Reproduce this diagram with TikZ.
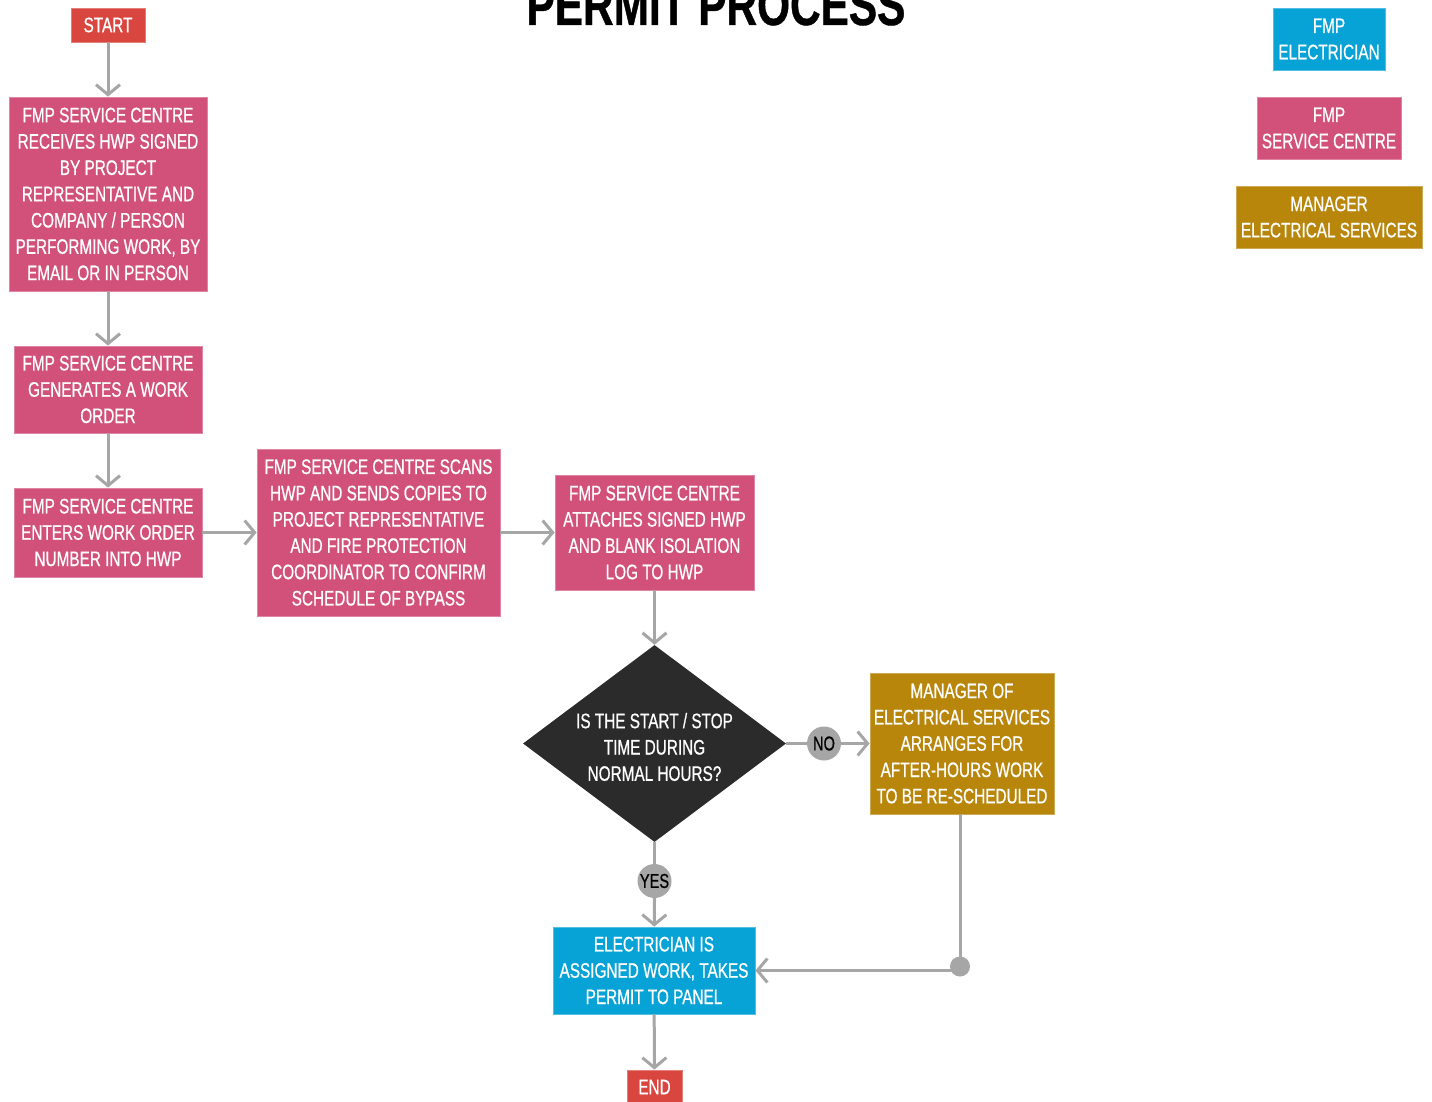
\documentclass[tikz,border=0pt]{standalone}
\usepackage{fontspec}
\setmainfont{Liberation Sans}[FakeStretch=0.73,FakeBold=0.7]
\usetikzlibrary{arrows.meta,shapes.geometric}
\definecolor{startred}{HTML}{D9463F}
\definecolor{centrepink}{HTML}{D1517B}
\definecolor{elecblue}{HTML}{07A2D6}
\definecolor{mgrgold}{HTML}{B8860B}
\definecolor{linegray}{HTML}{A6A6A6}
\definecolor{darkdia}{HTML}{2B2B2B}
\begin{document}
\begin{tikzpicture}[x=1pt,y=-1pt,
  box/.style={rectangle, inner sep=0pt, align=center, text=white,
    font=\fontsize{21}{26.3}\selectfont, line width=0.8pt},
  endpt/.style={box, fill=startred, draw=startred!70!white},
  centre/.style={box, fill=centrepink, draw=centrepink!70!white},
  elec/.style={box, fill=elecblue, draw=elecblue!70!white},
  mgr/.style={box, fill=mgrgold, draw=mgrgold!70!white},
  decision/.style={diamond, fill=darkdia, inner sep=0pt,
    minimum width=263pt, minimum height=197pt},
  answer/.style={circle, fill=linegray, inner sep=0pt, minimum size=34pt,
    text=black, font=\fontsize{20}{22}\selectfont},
  flow/.style={draw=linegray, line width=3pt,
    -{Straight Barb[length=10pt,width=24pt,line width=3pt]}},
  plain/.style={draw=linegray, line width=3pt},
]
\useasboundingbox (0,0) rectangle (1432,1102);

% title
\node[anchor=base, font=\fontsize{58}{60}\selectfont\bfseries] (title) at (716,25) {PERMIT PROCESS};

% legend
\node[elec, minimum width=112pt, minimum height=62pt] (legE) at (1329,39) {FMP\\ELECTRICIAN};
\node[centre, minimum width=144pt, minimum height=62pt] (legC) at (1329,128) {FMP\\SERVICE CENTRE};
\node[mgr, minimum width=186pt, minimum height=62pt] (legM) at (1329,217) {MANAGER\\ELECTRICAL SERVICES};

% process steps
\node[endpt, minimum width=74pt, minimum height=34pt] (start) at (108,25) {START};
\node[centre, minimum width=198pt, minimum height=194pt] (recv) at (108,194)
  {FMP SERVICE CENTRE\\RECEIVES HWP SIGNED\\BY PROJECT\\REPRESENTATIVE AND\\COMPANY / PERSON\\PERFORMING WORK, BY\\EMAIL OR IN PERSON};
\node[centre, minimum width=188pt, minimum height=87pt] (gen) at (108,389.5)
  {FMP SERVICE CENTRE\\GENERATES A WORK\\ORDER};
\node[centre, minimum width=188pt, minimum height=89pt] (enter) at (108,532.5)
  {FMP SERVICE CENTRE\\ENTERS WORK ORDER\\NUMBER INTO HWP};
\node[centre, minimum width=243pt, minimum height=167pt] (scan) at (378.5,532.5)
  {FMP SERVICE CENTRE SCANS\\HWP AND SENDS COPIES TO\\PROJECT REPRESENTATIVE\\AND FIRE PROTECTION\\COORDINATOR TO CONFIRM\\SCHEDULE OF BYPASS};
\node[centre, minimum width=199pt, minimum height=115pt] (attach) at (654.5,532.5)
  {FMP SERVICE CENTRE\\ATTACHES SIGNED HWP\\AND BLANK ISOLATION\\LOG TO HWP};

% decision
\node[decision] (q) at (654.5,743.5) {};
\node[align=center, text=white, inner sep=0pt, font=\fontsize{21}{26.3}\selectfont] (qtext) at (654.5,747)
  {IS THE START / STOP\\TIME DURING\\NORMAL HOURS?};
\node[answer] (no) at (824,743.5) {NO};
\node[answer] (yes) at (654.5,881) {YES};

\node[mgr, minimum width=184pt, minimum height=141pt] (after) at (962,743.5)
  {MANAGER OF\\ELECTRICAL SERVICES\\ARRANGES FOR\\AFTER-HOURS WORK\\TO BE RE-SCHEDULED};
\node[elec, minimum width=202pt, minimum height=87pt] (assign) at (654,970.5)
  {ELECTRICIAN IS\\ASSIGNED WORK, TAKES\\PERMIT TO PANEL};
\node[endpt, minimum width=55pt, minimum height=34pt] (end) at (654.5,1087) {END};

% junction where the re-scheduled path rejoins
\coordinate (join) at (960,970.5);

% connectors
\draw[flow] (start) -- (recv);
\draw[flow] (recv) -- (gen);
\draw[flow] (gen) -- (enter);
\draw[flow] (enter) -- (scan);
\draw[flow] (scan) -- (attach);
\draw[flow] (attach) -- (q.north);
\draw[plain] (q.east) -- (no);
\draw[flow] (no) -- (after);
\draw[plain] (q.south) -- (yes);
\draw[flow] (yes) -- (assign);
\draw[plain] (after.south -| join) -- (join);
\draw[flow] (join) -- (assign.east);
\fill[linegray] ([yshift=4pt]join) circle (10pt);
\draw[flow] (assign) -- (end);
\end{tikzpicture}
\end{document}
